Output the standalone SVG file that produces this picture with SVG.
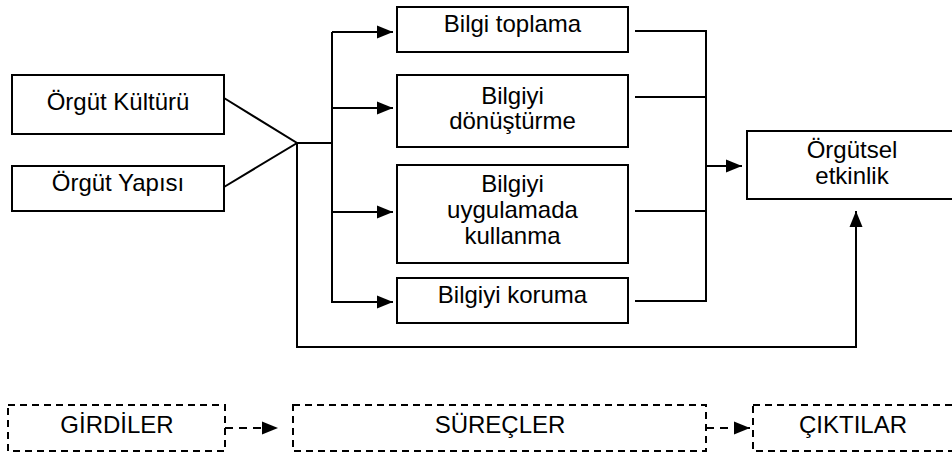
<svg xmlns="http://www.w3.org/2000/svg" width="952" height="454" viewBox="0 0 952 454">
<defs>
<marker id="ah" markerUnits="userSpaceOnUse" markerWidth="16" markerHeight="14" viewBox="0 0 16 14" refX="16" refY="7" orient="auto">
<path d="M0,0.5 L16,7 L0,13.5 Z" fill="#000"/>
</marker>
</defs>
<style>
.box{fill:#fff;stroke:#000;stroke-width:2}
.dbox{fill:#fff;stroke:#000;stroke-width:2;stroke-dasharray:7 5}
.ln{fill:none;stroke:#000;stroke-width:2}
.dl{fill:none;stroke:#000;stroke-width:2;stroke-dasharray:8 6}
text{font-family:"Liberation Sans",Arial,sans-serif;font-size:24px;fill:#000;text-anchor:middle}
</style>
<rect width="952" height="454" fill="#fff"/>
<g id="connectors">
<polyline class="ln" points="224,98 297,143 224,187"/>
<line class="ln" x1="297" y1="143" x2="332" y2="143"/>
<line class="ln" x1="332" y1="32" x2="332" y2="302"/>
<line class="ln" x1="332" y1="32" x2="393" y2="32" marker-end="url(#ah)"/>
<line class="ln" x1="332" y1="108" x2="393" y2="108" marker-end="url(#ah)"/>
<line class="ln" x1="332" y1="212" x2="393" y2="212" marker-end="url(#ah)"/>
<line class="ln" x1="331" y1="302" x2="393" y2="302" marker-end="url(#ah)"/>
<polyline class="ln" points="297,143 297,347 856,347 856,211" marker-end="url(#ah)"/>
<polyline class="ln" points="635,31 706,31 706,301 635,301"/>
<line class="ln" x1="635" y1="97" x2="706" y2="97"/>
<line class="ln" x1="635" y1="211" x2="706" y2="211"/>
<line class="ln" x1="705" y1="166" x2="742" y2="166" marker-end="url(#ah)"/>
<line class="dl" x1="225" y1="428" x2="278" y2="428" marker-end="url(#ah)"/>
<line class="dl" x1="706" y1="428" x2="750" y2="428" marker-end="url(#ah)"/>
</g>
<g id="n-kultur"><rect class="box" x="12" y="75" width="212" height="59"/><text x="118" y="110">Örgüt Kültürü</text></g>
<g id="n-yapi"><rect class="box" x="12" y="166" width="212" height="45"/><text x="118" y="191">Örgüt Yapısı</text></g>
<g id="n-toplama"><rect class="box" x="397" y="7" width="231" height="45"/><text x="512.5" y="32">Bilgi toplama</text></g>
<g id="n-donusturme"><rect class="box" x="397" y="75" width="231" height="72"/><text x="512.5" y="104">Bilgiyi</text><text x="512.5" y="129">dönüştürme</text></g>
<g id="n-uygulama"><rect class="box" x="397" y="165" width="231" height="98"/><text x="512.5" y="192">Bilgiyi</text><text x="512.5" y="218">uygulamada</text><text x="512.5" y="244">kullanma</text></g>
<g id="n-koruma"><rect class="box" x="397" y="278" width="231" height="45"/><text x="512.5" y="303">Bilgiyi koruma</text></g>
<g id="n-etkinlik"><rect class="box" x="747" y="131" width="212" height="68"/><text x="852" y="158">Örgütsel</text><text x="852" y="184">etkinlik</text></g>
<g id="n-girdiler"><rect class="dbox" x="8" y="405" width="217" height="46"/><text x="117" y="433">GİRDİLER</text></g>
<g id="n-surecler"><rect class="dbox" x="293" y="405" width="413" height="46"/><text x="500" y="433">SÜREÇLER</text></g>
<g id="n-ciktilar"><rect class="dbox" x="753" y="405" width="210" height="46"/><text x="853" y="433">ÇIKTILAR</text></g>
</svg>
